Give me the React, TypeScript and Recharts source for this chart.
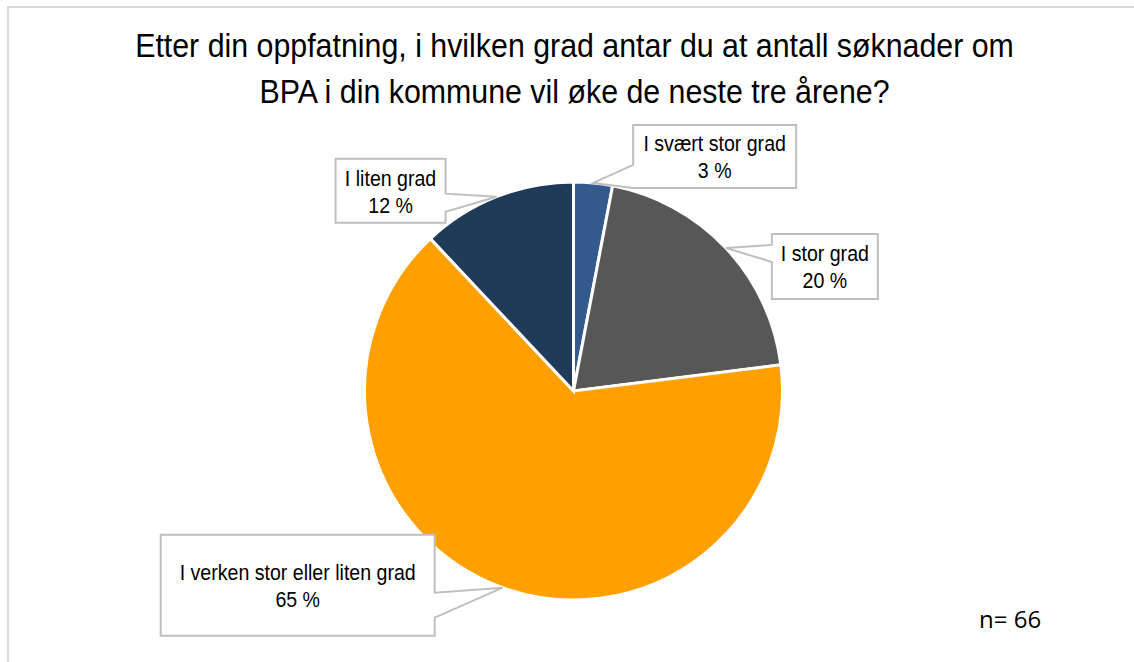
import { PieChart, Pie, Cell } from 'recharts';

const categories = ['I svært stor grad', 'I stor grad', 'I verken stor eller liten grad', 'I liten grad'];
const shares = [3, 20, 65, 12];
const titleLines = [
  'Etter din oppfatning, i hvilken grad antar du at antall søknader om',
  'BPA i din kommune vil øke de neste tre årene?',
];
const sampleNote = 'n= 66';

const colors = ['#34598c', '#575757', '#ffa000', '#203a5a'];

// callout box placement relative to the slice tip (box left/top offset, size, wedge side and span)
const callouts = [
  { dx: 40, dy: -58, w: 163, h: 63, side: 'left', w0: 40, w1: 63 },
  { dx: 46, dy: -14, w: 106, h: 65, side: 'left', w0: 11, w1: 28 },
  { dx: -342, dy: -53, w: 274, h: 101, side: 'right', w0: 58, w1: 83 },
  { dx: -161, dy: -38, w: 110, h: 64, side: 'right', w0: 35, w1: 53 },
];

const data = categories.map((name, i) => ({ name, value: shares[i] }));
const RAD = Math.PI / 180;
const FONT = "'Liberation Sans', Arial, sans-serif";

function Callout(props: any) {
  const { cx, cy, midAngle, outerRadius, index, name, value } = props;
  const tx = cx + outerRadius * Math.cos(-midAngle * RAD);
  const ty = cy + outerRadius * Math.sin(-midAngle * RAD);
  const c = callouts[index];
  const x = tx + c.dx;
  const y = ty + c.dy;
  let d: string;
  if (c.side === 'left') {
    d = `M${x},${y} L${x + c.w},${y} L${x + c.w},${y + c.h} L${x},${y + c.h} L${x},${y + c.w1} L${tx},${ty} L${x},${y + c.w0} Z`;
  } else {
    const r = x + c.w;
    d = `M${x},${y} L${r},${y} L${r},${y + c.w0} L${tx},${ty} L${r},${y + c.w1} L${r},${y + c.h} L${x},${y + c.h} Z`;
  }
  const mx = x + c.w / 2;
  const my = y + c.h / 2;
  return (
    <g>
      <path d={d} fill="#fff" stroke="#bfbfbf" strokeWidth={2} strokeLinejoin="miter" />
      <text transform={`translate(${mx},${my - 5}) scale(0.89,1)`} textAnchor="middle" fontFamily={FONT} fontSize={22} fill="#000">
        {name}
      </text>
      <text transform={`translate(${mx},${my + 22}) scale(0.89,1)`} textAnchor="middle" fontFamily={FONT} fontSize={22} fill="#000">
        {value} %
      </text>
    </g>
  );
}

export default function App() {
  return (
    <div style={{ position: 'absolute', left: 0, top: 0, width: 1134, height: 662, overflow: 'hidden', background: '#fff' }}>
      <div style={{ position: 'absolute', left: 7, top: 6, width: 1140, height: 670, border: '2px solid #d9d9d9' }} />
      <div style={{ position: 'absolute', left: 0, top: 0 }}>
        <PieChart width={1134} height={662} margin={{ top: 0, right: 0, bottom: 0, left: 0 }}>
          <Pie
            data={data}
            dataKey="value"
            nameKey="name"
            cx={573.5}
            cy={391}
            outerRadius={209}
            startAngle={90}
            endAngle={-270}
            stroke="#fff"
            strokeWidth={3}
            label={Callout}
            labelLine={false}
            isAnimationActive={false}
          >
            {data.map((d, i) => (
              <Cell key={d.name} fill={colors[i]} />
            ))}
          </Pie>
        </PieChart>
      </div>
      <svg width={1134} height={662} style={{ position: 'absolute', left: 0, top: 0, pointerEvents: 'none' }}>
        {titleLines.map((t, i) => (
          <text key={i} transform={`translate(574.5,${57 + i * 46}) scale(0.92,1)`} textAnchor="middle" fontFamily={FONT} fontSize={33} fill="#000">
            {t}
          </text>
        ))}
        <text x={979} y={628} fontFamily="'Open Sans', sans-serif" fontSize={24} fill="#000">
          {sampleNote}
        </text>
      </svg>
    </div>
  );
}
